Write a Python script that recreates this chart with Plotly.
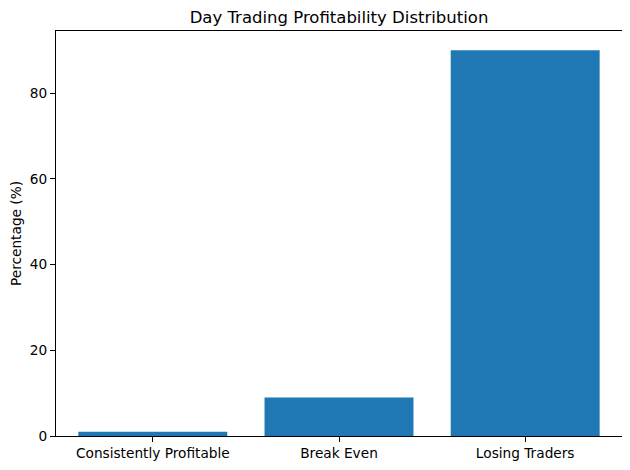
import plotly.graph_objects as go

categories = ["Consistently Profitable", "Break Even", "Losing Traders"]
percentages = [1, 9, 90]

fig = go.Figure(
    go.Bar(
        x=categories,
        y=percentages,
        marker=dict(color="#1f77b4", line=dict(width=0)),
        width=0.8,
    )
)

axis_style = dict(
    showline=True,
    linecolor="black",
    linewidth=1,
    mirror=True,
    ticks="outside",
    ticklen=5,
    tickcolor="black",
    showgrid=False,
    zeroline=False,
    tickfont=dict(size=13.7),
)

# the page body adds an 8px margin, so margins are shifted to compensate
fig.update_layout(
    width=630,
    height=470,
    paper_bgcolor="white",
    plot_bgcolor="white",
    font=dict(family="DejaVu Sans", size=13.7, color="black"),
    title=dict(
        text="Day Trading Profitability Distribution",
        x=0.5,
        xref="paper",
        xanchor="center",
        y=1 - 9 / 470,
        yanchor="middle",
        font=dict(size=16.5),
    ),
    margin=dict(l=48, r=16, t=23, b=42, autoexpand=False),
    bargap=0.2,
    showlegend=False,
)
fig.update_xaxes(range=[-0.52, 2.52], **axis_style)
fig.update_yaxes(
    range=[0, 94.5],
    tickvals=[0, 20, 40, 60, 80],
    title=dict(text="Percentage (%)", standoff=10, font=dict(size=13.7)),
    **axis_style,
)

fig.write_html("out.html")
